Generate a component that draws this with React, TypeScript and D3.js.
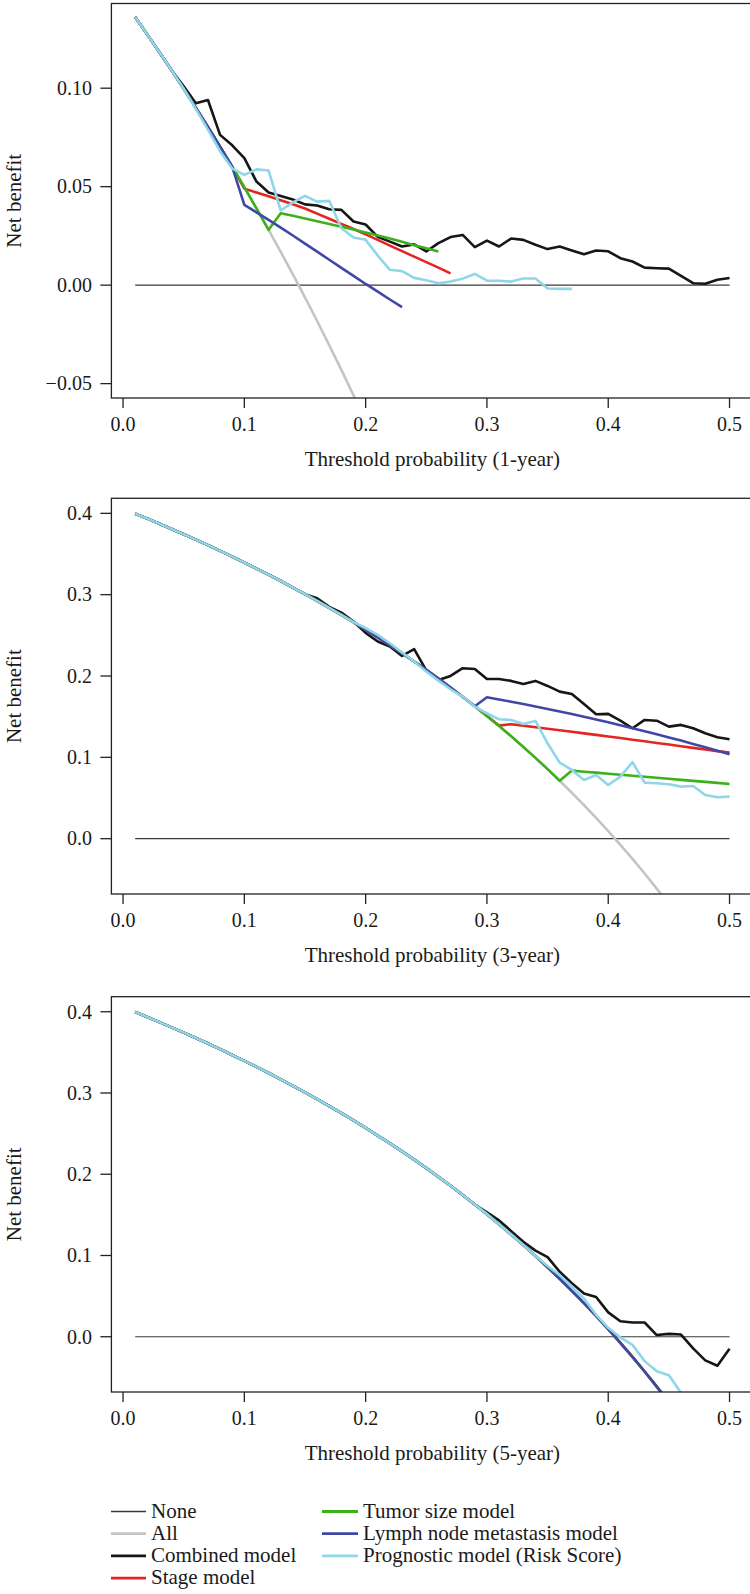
import React from 'react';
import * as d3 from 'd3';

// ---------- DATA ----------
const THRESHOLDS = [
  0.01, 0.02, 0.03, 0.04, 0.05, 0.06, 0.07, 0.08, 0.09, 0.10,
  0.11, 0.12, 0.13, 0.14, 0.15, 0.16, 0.17, 0.18, 0.19, 0.20,
  0.21, 0.22, 0.23, 0.24, 0.25, 0.26, 0.27, 0.28, 0.29, 0.30,
  0.31, 0.32, 0.33, 0.34, 0.35, 0.36, 0.37, 0.38, 0.39, 0.40,
  0.41, 0.42, 0.43, 0.44, 0.45, 0.46, 0.47, 0.48, 0.49, 0.50,
];

const X_TICKS = [0, 0.1, 0.2, 0.3, 0.4, 0.5];
const X_TICK_LABELS = ['0.0', '0.1', '0.2', '0.3', '0.4', '0.5'];
const Y_TICKS_1Y = [-0.05, 0, 0.05, 0.1];
const Y_TICK_LABELS_1Y = ['\u22120.05', '0.00', '0.05', '0.10'];
const Y_TICKS_35Y = [0, 0.1, 0.2, 0.3, 0.4];
const Y_TICK_LABELS_35Y = ['0.0', '0.1', '0.2', '0.3', '0.4'];

const LEGEND_NAMES = [
  'None', 'All', 'Combined model', 'Stage model',
  'Tumor size model', 'Lymph node metastasis model', 'Prognostic model (Risk Score)',
];

// ----- 1-year -----
const ALL_1Y = [
  0.1361, 0.1272, 0.1183, 0.1091, 0.0997, 0.0901, 0.0803, 0.0703, 0.0601, 0.0497,
  0.0390, 0.0281, 0.0169, 0.0055, -0.0062, -0.0182, -0.0305, -0.0430, -0.0559, -0.0691,
];
const COMBINED_1Y = [
  0.1361, 0.1272, 0.1183, 0.1091, 0.1010, 0.0924, 0.0940, 0.0763, 0.0710, 0.0645,
  0.0526, 0.0470, 0.0453, 0.0435, 0.0410, 0.0404, 0.0385, 0.0382, 0.0323, 0.0308,
  0.0245, 0.0221, 0.0196, 0.0207, 0.0171, 0.0213, 0.0244, 0.0255, 0.0193, 0.0226,
  0.0196, 0.0237, 0.0230, 0.0205, 0.0183, 0.0196, 0.0176, 0.0157, 0.0176, 0.0172,
  0.0137, 0.0120, 0.0089, 0.0086, 0.0084, 0.0047, 0.0010, 0.0007, 0.0027, 0.0036,
];
const STAGE_1Y = [
  0.1361, 0.1272, 0.1183, 0.1091, 0.0997, 0.0901, 0.0803, 0.0703, 0.0601, 0.0490,
  0.0470, 0.0451, 0.0431, 0.0411, 0.0389, 0.0363, 0.0337, 0.0311, 0.0285, 0.0258,
  0.0230, 0.0201, 0.0173, 0.0145, 0.0117, 0.0089, 0.0060,
];
const TUMOR_1Y = [
  0.1361, 0.1272, 0.1183, 0.1091, 0.0997, 0.0901, 0.0803, 0.0703, 0.0601, 0.0497,
  0.0390, 0.0281, 0.0365, 0.0352, 0.0338, 0.0324, 0.0310, 0.0296, 0.0282, 0.0267,
  0.0252, 0.0237, 0.0220, 0.0203, 0.0187, 0.0171,
];
const LYMPH_1Y = [
  0.1361, 0.1272, 0.1183, 0.1091, 0.0997, 0.0901, 0.0803, 0.0703, 0.0601, 0.0408,
  0.0370, 0.0331, 0.0292, 0.0252, 0.0211, 0.0170, 0.0129, 0.0088, 0.0047, 0.0006,
  -0.0033, -0.0073, -0.0112,
];
const PROGNOSTIC_1Y = [
  0.1361, 0.1272, 0.1183, 0.1091, 0.0997, 0.0895, 0.0790, 0.0680, 0.0592, 0.0560,
  0.0588, 0.0582, 0.0379, 0.0420, 0.0453, 0.0424, 0.0428, 0.0289, 0.0242, 0.0230,
  0.0150, 0.0078, 0.0071, 0.0037, 0.0025, 0.0010, 0.0018, 0.0033, 0.0057, 0.0023,
  0.0022, 0.0018, 0.0034, 0.0034, -0.0017, -0.0019, -0.0019,
];

// ----- 3-year -----
const ALL_3Y = [
  0.3996, 0.3935, 0.3872, 0.3808, 0.3743, 0.3677, 0.3609, 0.3539, 0.3468, 0.3396,
  0.3321, 0.3246, 0.3168, 0.3088, 0.3007, 0.2924, 0.2839, 0.2751, 0.2662, 0.2570,
  0.2476, 0.2380, 0.2281, 0.2179, 0.2075, 0.1968, 0.1858, 0.1744, 0.1628, 0.1509,
  0.1386, 0.1259, 0.1128, 0.0994, 0.0855, 0.0713, 0.0565, 0.0413, 0.0256, 0.0093,
  -0.0075, -0.0248, -0.0428, -0.0614, -0.0807,
];
const COMBINED_3Y = [
  ...ALL_3Y.slice(0, 15),
  0.2955, 0.2850, 0.2780, 0.2670, 0.2530,
  0.2425, 0.2362, 0.2247, 0.2330, 0.2070, 0.1952, 0.2001, 0.2096, 0.2087, 0.1964,
  0.1964, 0.1940, 0.1903, 0.1940, 0.1878, 0.1808, 0.1780, 0.1657, 0.1530, 0.1534,
  0.1451, 0.1358, 0.1460, 0.1451, 0.1378, 0.1399, 0.1358, 0.1296, 0.1247, 0.1223,
];
const STAGE_3Y = [
  ...ALL_3Y.slice(0, 30),
  0.1390, 0.1408, 0.1390, 0.1371, 0.1352, 0.1333, 0.1314, 0.1295, 0.1276, 0.1256,
  0.1237, 0.1217, 0.1197, 0.1177, 0.1157, 0.1137, 0.1117, 0.1097, 0.1077, 0.1058,
];
const TUMOR_3Y = [
  ...ALL_3Y.slice(0, 36),
  0.0837, 0.0824, 0.0812, 0.0799, 0.0786, 0.0774, 0.0761, 0.0749, 0.0736, 0.0723,
  0.0711, 0.0698, 0.0686, 0.0673,
];
const LYMPH_3Y = [
  ...ALL_3Y.slice(0, 29),
  0.1739, 0.1712, 0.1684, 0.1655, 0.1626, 0.1595, 0.1564, 0.1532, 0.1499, 0.1465,
  0.1431, 0.1395, 0.1359, 0.1322, 0.1284, 0.1245, 0.1206, 0.1165, 0.1124, 0.1082,
  0.1039,
];
const PROGNOSTIC_3Y = [
  ...ALL_3Y.slice(0, 19),
  0.2590, 0.2505, 0.2403, 0.2290, 0.2180, 0.2054, 0.1943, 0.1837, 0.1747, 0.1624,
  0.1542, 0.1468, 0.1460, 0.1411, 0.1448, 0.1173, 0.0935, 0.0845, 0.0722, 0.0783,
  0.0660, 0.0763, 0.0940, 0.0689, 0.0681, 0.0669, 0.0640, 0.0648, 0.0537, 0.0509,
  0.0517,
];

// ----- 5-year -----
const ALL_5Y = ALL_3Y;
const COMBINED_5Y = [
  ...ALL_5Y.slice(0, 29),
  0.1530, 0.1432, 0.1300, 0.1170, 0.1060, 0.0980, 0.0800, 0.0660, 0.0533, 0.0490,
  0.0300, 0.0190, 0.0175, 0.0175, 0.0021, 0.0035, 0.0027, -0.0143, -0.0290, -0.0357,
  -0.0147,
];
const STAGE_5Y = ALL_5Y;
const TUMOR_5Y = ALL_5Y;
const LYMPH_5Y = ALL_5Y;
const PROGNOSTIC_5Y = [
  ...ALL_5Y.slice(0, 34),
  0.0870, 0.0758, 0.0615, 0.0470, 0.0270, 0.0110, -0.0008, -0.0100, -0.0300, -0.0425,
  -0.0474, -0.0690,
];

// ---------- STYLE ----------
const COLORS = ['#3a3a3a', '#c4c4c4', '#161616', '#e3261f', '#3cb11b', '#3f48a6', '#8fd7e8'];
const WIDTHS = [1.2, 2.6, 2.6, 2.6, 2.6, 2.6, 2.6];
const FONT = 'Liberation Serif, DejaVu Serif, serif';
const TEXT_STYLE = { fontFamily: FONT };

const PANELS = [
  {
    id: 'p1', top: 3.5, bottom: 398, ylim: [-0.0573, 0.143],
    yTicks: Y_TICKS_1Y, yLabels: Y_TICK_LABELS_1Y, title: 'Threshold probability (1-year)',
    series: [ALL_1Y, COMBINED_1Y, STAGE_1Y, TUMOR_1Y, LYMPH_1Y, PROGNOSTIC_1Y],
  },
  {
    id: 'p2', top: 498.3, bottom: 894, ylim: [-0.068, 0.4185],
    yTicks: Y_TICKS_35Y, yLabels: Y_TICK_LABELS_35Y, title: 'Threshold probability (3-year)',
    series: [ALL_3Y, COMBINED_3Y, STAGE_3Y, TUMOR_3Y, LYMPH_3Y, PROGNOSTIC_3Y],
  },
  {
    id: 'p3', top: 996.7, bottom: 1392, ylim: [-0.068, 0.4185],
    yTicks: Y_TICKS_35Y, yLabels: Y_TICK_LABELS_35Y, title: 'Threshold probability (5-year)',
    series: [ALL_5Y, COMBINED_5Y, STAGE_5Y, TUMOR_5Y, LYMPH_5Y, PROGNOSTIC_5Y],
  },
];

const W = 750;
const H = 1594;

const x = d3.scaleLinear().domain([-0.0096, 0.5196]).range([111.4, 753.3]);

function Panel({ p }: { p: any }) {
  const y = d3.scaleLinear().domain(p.ylim).range([p.bottom, p.top]);
  const line = d3
    .line<[number, number]>()
    .x((d) => x(d[0]))
    .y((d) => y(d[1]));
  const toPts = (vals: number[]) => vals.map((v, i) => [THRESHOLDS[i], v] as [number, number]);
  const nonePts = toPts(THRESHOLDS.map(() => 0));
  const left = x(-0.0096);
  const right = x(0.5196);
  const mid = (left + right) / 2;
  return (
    <g>
      <defs>
        <clipPath id={`clip-${p.id}`}>
          <rect x={left} y={p.top} width={right - left} height={p.bottom - p.top} />
        </clipPath>
      </defs>
      <g clipPath={`url(#clip-${p.id})`}>
        <path d={line(nonePts) || ''} fill="none" stroke={COLORS[0]} strokeWidth={WIDTHS[0]} />
        {p.series.map((vals: number[], k: number) => (
          <path
            key={k}
            d={line(toPts(vals)) || ''}
            fill="none"
            stroke={COLORS[k + 1]}
            strokeWidth={WIDTHS[k + 1]}
            strokeLinejoin="round"
            strokeLinecap="butt"
          />
        ))}
      </g>
      <rect x={left} y={p.top} width={right - left} height={p.bottom - p.top}
        fill="none" stroke="#222" strokeWidth={1.3} />
      {p.yTicks.map((t: number, i: number) => (
        <g key={`y${i}`}>
          <line x1={left - 11} x2={left} y1={y(t)} y2={y(t)} stroke="#222" strokeWidth={1.3} />
          <text x={left - 19.5} y={y(t)} dy="0.34em" textAnchor="end" fontSize={20} style={TEXT_STYLE} fill="#1a1a1a">
            {p.yLabels[i]}
          </text>
        </g>
      ))}
      {X_TICKS.map((t, i) => (
        <g key={`x${i}`}>
          <line x1={x(t)} x2={x(t)} y1={p.bottom} y2={p.bottom + 10} stroke="#222" strokeWidth={1.3} />
          <text x={x(t)} y={p.bottom + 32.7} textAnchor="middle" fontSize={20} style={TEXT_STYLE} fill="#1a1a1a">
            {X_TICK_LABELS[i]}
          </text>
        </g>
      ))}
      <text x={mid} y={p.bottom + 68} textAnchor="middle" fontSize={21} style={TEXT_STYLE} fill="#1a1a1a">
        {p.title}
      </text>
      <text
        transform={`translate(20.5, ${(p.top + p.bottom) / 2}) rotate(-90)`}
        textAnchor="middle" fontSize={21} style={TEXT_STYLE} fill="#1a1a1a"
      >
        Net benefit
      </text>
    </g>
  );
}

function Legend() {
  const rowY = [1511.5, 1533.7, 1555.9, 1578.1];
  const cols = [
    { lx1: 111, lx2: 146, tx: 151 },
    { lx1: 322, lx2: 358, tx: 363 },
  ];
  return (
    <g>
      {LEGEND_NAMES.map((name, i) => {
        const col = i < 4 ? cols[0] : cols[1];
        const ry = rowY[i < 4 ? i : i - 4];
        return (
          <g key={name}>
            <line x1={col.lx1} x2={col.lx2} y1={ry} y2={ry} stroke={COLORS[i]} strokeWidth={i === 0 ? 1.4 : 2.8} />
            <text x={col.tx} y={ry + 6} fontSize={21} style={TEXT_STYLE} fill="#1a1a1a">
              {name}
            </text>
          </g>
        );
      })}
    </g>
  );
}

export default function App() {
  return (
    <svg
      width={W}
      height={H}
      viewBox={`0 0 ${W} ${H}`}
      style={{ position: 'absolute', left: 0, top: 0, background: '#fff' }}
    >
      <rect x={0} y={0} width={W} height={H} fill="#fff" />
      {PANELS.map((p) => (
        <Panel key={p.id} p={p} />
      ))}
      <Legend />
    </svg>
  );
}
